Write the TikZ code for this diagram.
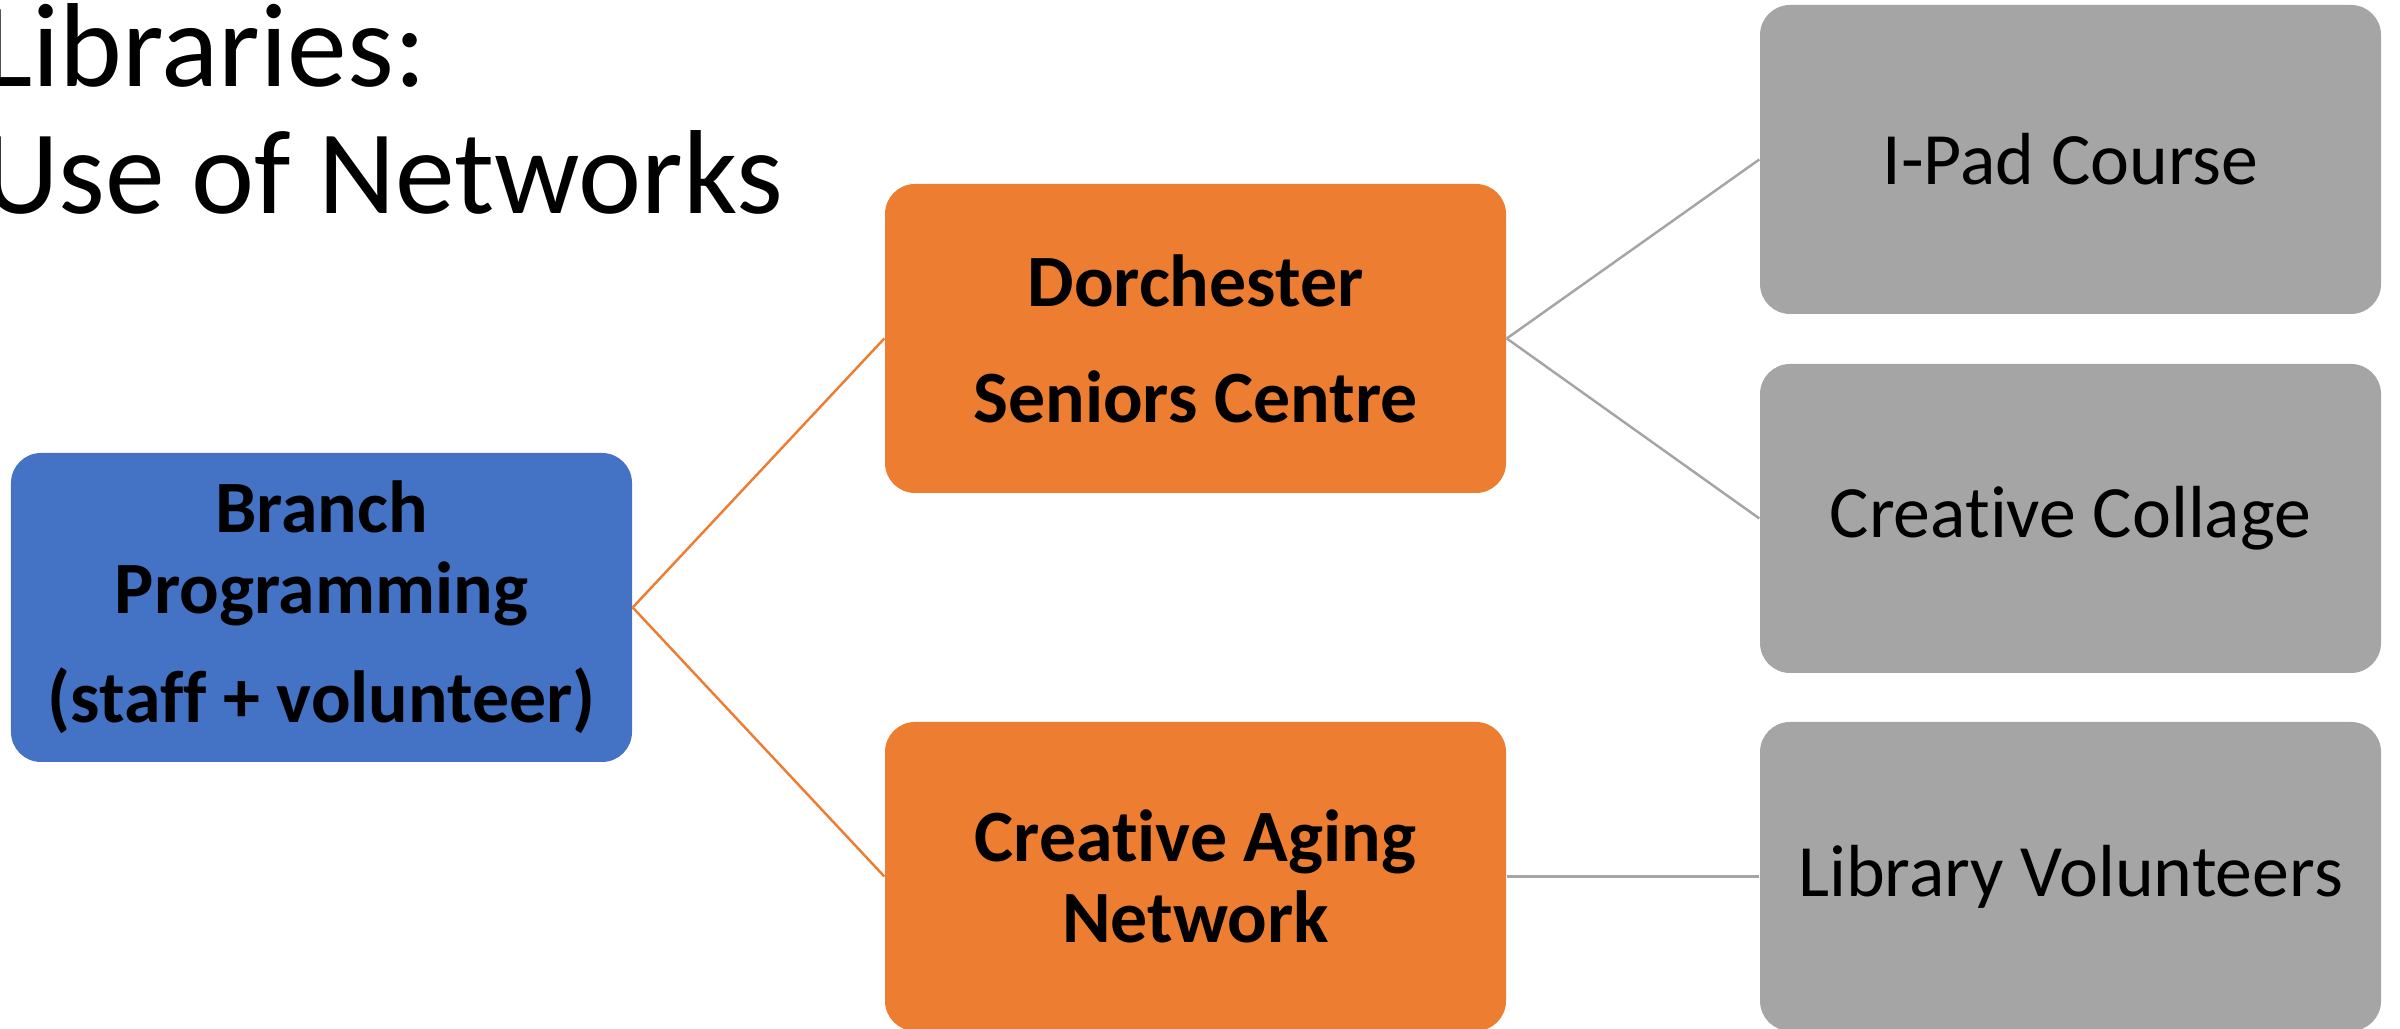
\documentclass[tikz,border=0pt]{standalone}
\usepackage{fontspec}
\setmainfont{Carlito}[Ligatures=NoCommon]
\definecolor{cblue}{HTML}{4472C4}
\definecolor{corange}{HTML}{ED7D31}
\definecolor{cgrey}{HTML}{A5A5A5}
\begin{document}
\begin{tikzpicture}
\useasboundingbox (0,0) rectangle (24,10.29);
\tikzset{
  box/.style={rounded corners=0.3cm, minimum width=6.21cm, minimum height=3.09cm,
    align=center, inner sep=0pt, text=black},
  bluebox/.style={box, fill=cblue, font=\bfseries\fontsize{21}{23}\selectfont},
  orangebox/.style={box, fill=corange, font=\bfseries\fontsize{21}{23}\selectfont},
  greybox/.style={box, fill=cgrey, font=\fontsize{21}{23}\selectfont},
  orangeline/.style={draw=corange, line width=0.7pt},
  greyline/.style={draw=cgrey, line width=0.7pt},
  titletext/.style={inner sep=0pt, font=\fontsize{34}{40}\selectfont}
}
% title
\node[titletext, anchor=base east] (t2) at (7.84,8.15) {Use of Networks};
\node[titletext, anchor=base west] (t1) at ([yshift=1.27cm]t2.base west) {Libraries:};
% nodes
\node[bluebox] (branch) at (3.215,4.215) {Branch\\Programming\\[8pt](staff + volunteer)};
\node[orangebox] (dor) at (11.955,6.905) {Dorchester\\[10pt]Seniors Centre};
\node[orangebox] (can) at (11.955,1.525) {Creative Aging\\Network};
\node[greybox] (ipad) at (20.705,8.695) {I-Pad Course};
\node[greybox] (coll) at (20.705,5.105) {Creative Collage};
\node[greybox] (libv) at (20.705,1.525) {Library Volunteers};
% connectors
\draw[orangeline] (branch.east) -- (dor.west);
\draw[orangeline] (branch.east) -- (can.west);
\draw[greyline] (dor.east) -- (ipad.west);
\draw[greyline] (dor.east) -- (coll.west);
\draw[greyline] (can.east) -- (libv.west);
\end{tikzpicture}
\end{document}
